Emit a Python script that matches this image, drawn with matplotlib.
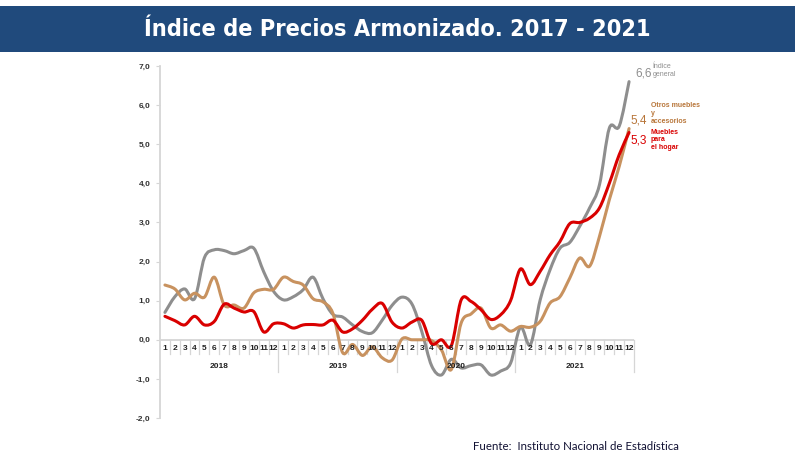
import matplotlib
matplotlib.use("Agg")
import matplotlib.pyplot as plt
from matplotlib.path import Path
from matplotlib.patches import PathPatch, Rectangle

# data (monthly, Jan 2018 - Dec 2021)
years = ["2018", "2019", "2020", "2021"]
month_labels = [str(m) for m in range(1, 13)] * 4

indice_general = [0.70, 1.10, 1.30, 1.05, 2.10, 2.30, 2.28, 2.20, 2.28, 2.34, 1.74, 1.24,
                  1.02, 1.10, 1.28, 1.60, 1.05, 0.65, 0.58, 0.38, 0.21, 0.18, 0.50, 0.88,
                  1.09, 0.92, 0.22, -0.66, -0.90, -0.50, -0.72, -0.66, -0.64, -0.90, -0.80, -0.60,
                  0.32, -0.13, 1.02, 1.79, 2.34, 2.49, 2.90, 3.37, 3.96, 5.41, 5.46, 6.60]
otros_muebles = [1.40, 1.30, 1.02, 1.19, 1.09, 1.60, 0.89, 0.89, 0.81, 1.20, 1.29, 1.29,
                 1.60, 1.49, 1.40, 1.05, 0.97, 0.68, -0.33, -0.12, -0.40, -0.18, -0.46, -0.52,
                 0.02, 0.00, 0.00, -0.02, -0.26, -0.76, 0.43, 0.66, 0.81, 0.30, 0.38, 0.22,
                 0.34, 0.32, 0.47, 0.94, 1.10, 1.58, 2.09, 1.88, 2.64, 3.58, 4.43, 5.40]
muebles_hogar = [0.60, 0.49, 0.38, 0.60, 0.38, 0.47, 0.91, 0.81, 0.71, 0.72, 0.20, 0.41,
                 0.41, 0.30, 0.38, 0.39, 0.38, 0.50, 0.20, 0.28, 0.50, 0.78, 0.93, 0.45,
                 0.30, 0.45, 0.50, -0.10, 0.00, -0.15, 1.02, 0.98, 0.77, 0.52, 0.64, 1.00,
                 1.81, 1.41, 1.75, 2.17, 2.51, 2.97, 3.00, 3.11, 3.37, 4.00, 4.73, 5.30]

y_ticks = [-2, -1, 0, 1, 2, 3, 4, 5, 6, 7]

GRAY = "#8e8e8e"
BROWN = "#c8925f"
RED = "#d90000"
AXIS = "#d6d6d6"

plt.rcParams["font.family"] = ["Liberation Sans", "DejaVu Sans"]

fig = plt.figure(figsize=(8.04, 4.63), dpi=100)

# title banner
fig.patches.append(Rectangle((0, 0.887), 795 / 804, 0.100, transform=fig.transFigure,
                             facecolor="#204a7c", edgecolor="none"))
fig.text(0.494, 0.937, "Índice de Precios Armonizado. 2017 - 2021", color="white",
         fontsize=16.8, ha="center", va="center", fontweight="bold",
         fontstretch="condensed", family="DejaVu Sans")

ax = fig.add_axes([160 / 804, 45 / 463, 474 / 804, 352 / 463])
n = len(indice_general)
ax.set_xlim(-0.5, n - 0.5)
ax.set_ylim(-2, 7)


def smooth_line(vals, color):
    # smoothed line like the spreadsheet: bezier through every point
    pts = list(zip(range(len(vals)), vals))
    verts = [pts[0]]
    codes = [Path.MOVETO]
    for i in range(len(pts) - 1):
        p0 = pts[max(i - 1, 0)]
        p1 = pts[i]
        p2 = pts[i + 1]
        p3 = pts[min(i + 2, len(pts) - 1)]
        c1 = (p1[0] + (p2[0] - p0[0]) / 6, p1[1] + (p2[1] - p0[1]) / 6)
        c2 = (p2[0] - (p3[0] - p1[0]) / 6, p2[1] - (p3[1] - p1[1]) / 6)
        verts += [c1, c2, p2]
        codes += [Path.CURVE4] * 3
    ax.add_patch(PathPatch(Path(verts, codes), fill=False, edgecolor=color,
                           lw=2.2, capstyle="round", joinstyle="round", zorder=3))


smooth_line(indice_general, GRAY)
smooth_line(otros_muebles, BROWN)
smooth_line(muebles_hogar, RED)

# axes look
for s in ["top", "right", "bottom"]:
    ax.spines[s].set_visible(False)
ax.spines["left"].set_color(AXIS)
ax.spines["left"].set_linewidth(1.3)
ax.set_yticks(y_ticks)
ax.set_yticklabels([f"{t:.1f}".replace(".", ",") for t in y_ticks],
                   fontsize=6, fontweight="bold", color="#333333")
ax.tick_params(axis="y", length=3, width=0.8, color=AXIS, pad=4)
ax.set_xticks([])

# category axis at zero with month and year labels
ax.axhline(0, color=AXIS, lw=1.3, zorder=1)
for i in range(1, n):
    if i % 12 == 0:
        ax.plot([i - 0.5, i - 0.5], [0, -0.82], color=AXIS, lw=0.9, clip_on=False)
    else:
        ax.plot([i - 0.5, i - 0.5], [0, -0.36], color=AXIS, lw=0.9, clip_on=False)
ax.plot([n - 0.5, n - 0.5], [0, -0.82], color=AXIS, lw=0.9, clip_on=False)
for i, lab in enumerate(month_labels):
    ax.text(i, -0.23, lab, fontsize=6, fontweight="bold", ha="center", va="center",
            color="#222222")
for k, yr in enumerate(years):
    ax.text(k * 12 + 5.5, -0.69, yr, fontsize=6, fontweight="bold", ha="center",
            va="center", color="#222222")

# end labels
ax.text(47.6, 6.8, "6,6", color=GRAY, fontsize=8.5, ha="left", va="center")
ax.text(49.4, 6.89, "Índice\ngeneral", color=GRAY, fontsize=5, ha="left", va="center",
        linespacing=1.15)
ax.text(47.1, 5.6, "5,4", color="#b8763a", fontsize=8.5, ha="left", va="center")
ax.text(49.2, 5.79, "Otros muebles\ny\naccesorios", color="#b8763a", fontsize=5,
        fontweight="bold", ha="left", va="center", linespacing=1.15)
ax.text(47.1, 5.1, "5,3", color=RED, fontsize=8.5, ha="left", va="center")
ax.text(49.2, 5.11, "Muebles\npara\nel hogar", color=RED, fontsize=5,
        fontweight="bold", ha="left", va="center", linespacing=1.15)

fig.text(473 / 804, 1 - 447 / 463, "Fuente:  Instituto Nacional de Estadística",
         fontsize=8.3, ha="left", va="center", color="#111133", family="Lato")

fig.savefig("out.png", dpi=100)
